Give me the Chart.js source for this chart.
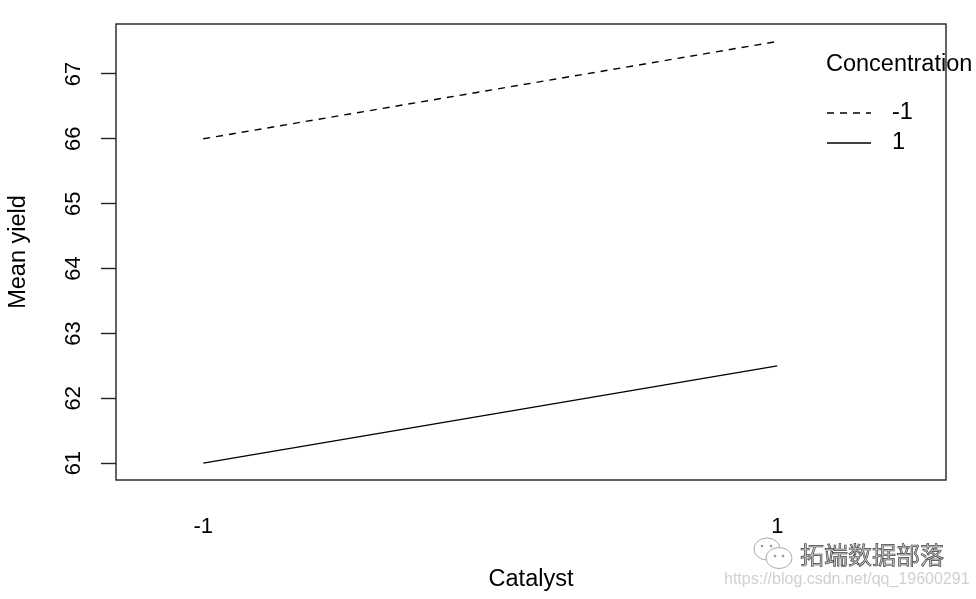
<!DOCTYPE html>
<html>
<head>
<meta charset="utf-8">
<script src="https://cdn.jsdelivr.net/npm/chart.js@4/dist/chart.umd.min.js"></script>
<style>
html,body{margin:0;padding:0;background:#fff;}
#wrap{width:976px;height:599px;position:relative;}
</style>
</head>
<body>
<div id="wrap"><canvas id="c"></canvas></div>
<script>
// ---- data ----
const catalystLevels = ['-1', '1'];
const concentrationLevels = ['-1', '1'];
const meanYieldConcMinus1 = [66, 67.5];
const meanYieldConcPlus1 = [61, 62.5];
const yTicks = [61, 62, 63, 64, 65, 66, 67];
const xTitle = 'Catalyst';
const yTitle = 'Mean yield';
const legendTitle = 'Concentration';
const watermarkName = '拓端数据部落';
const watermarkUrl = 'https://blog.csdn.net/qq_19600291';

const FONT = '"Liberation Sans", Arial, Helvetica, sans-serif';

function toPoints(vals){ return vals.map((v,i)=>({x:i+1, y:v})); }

const seriesStyles = [
  {dash:[7,6]},
  {dash:[]}
];

const boxPlugin = {
  id:'box',
  afterDraw(chart){
    const {ctx, chartArea:a} = chart;
    ctx.save();
    ctx.strokeStyle = '#222';
    ctx.lineWidth = 1.4;
    ctx.strokeRect(a.left, a.top, a.right - a.left, a.bottom - a.top);
    ctx.restore();
  }
};

const legendPlugin = {
  id:'rlegend',
  afterDraw(chart){
    const {ctx, chartArea:a} = chart;
    const x0 = a.right - 120;
    ctx.save();
    ctx.fillStyle = '#000';
    ctx.font = '23.5px ' + FONT;
    ctx.textBaseline = 'middle';
    ctx.textAlign = 'left';
    ctx.fillText(legendTitle, x0, a.top + 41);
    chart.data.datasets.forEach((ds, i) => {
      const y = a.top + 89 + i * 30;
      ctx.strokeStyle = '#000';
      ctx.lineWidth = 1.4;
      ctx.setLineDash(ds.borderDash || []);
      ctx.beginPath();
      ctx.moveTo(x0 + 1, y);
      ctx.lineTo(x0 + 45, y);
      ctx.stroke();
      ctx.setLineDash([]);
      ctx.fillText(concentrationLevels[i], x0 + 66, y);
    });
    ctx.restore();
  }
};

const watermarkPlugin = {
  id:'wm',
  afterDraw(chart){
    const {ctx} = chart;
    const W = chart.width, H = chart.height;
    ctx.save();
    // wechat-like icon
    ctx.strokeStyle = '#aaa';
    ctx.fillStyle = '#fff';
    ctx.lineWidth = 1;
    ctx.beginPath(); ctx.ellipse(W - 209, H - 50, 13, 11, 0, 0, Math.PI*2); ctx.fill(); ctx.stroke();
    ctx.beginPath(); ctx.ellipse(W - 197, H - 41, 13, 10.5, 0, 0, Math.PI*2); ctx.fill(); ctx.stroke();
    ctx.fillStyle = '#999';
    [[-214,-53],[-205,-53],[-201,-43],[-193,-43]].forEach(p=>{ctx.beginPath();ctx.arc(W+p[0],H+p[1],1.3,0,Math.PI*2);ctx.fill();});
    ctx.font = '24px "Noto Sans CJK SC", sans-serif';
    ctx.textBaseline = 'middle';
    ctx.textAlign = 'left';
    ctx.fillStyle = '#c8c8c8';
    ctx.strokeStyle = '#444';
    ctx.lineWidth = 0.7;
    ctx.fillText(watermarkName, W - 176, H - 44);
    ctx.strokeText(watermarkName, W - 176, H - 44);
    ctx.font = '16px ' + FONT;
    ctx.fillStyle = '#d0d0d0';
    ctx.fillText(watermarkUrl, W - 252, H - 19);
    ctx.restore();
  }
};

new Chart(document.getElementById('c'), {
  type:'line',
  data:{
    datasets:[
      {label:concentrationLevels[0], data:toPoints(meanYieldConcMinus1), borderColor:'#000', borderWidth:1.4, borderDash:seriesStyles[0].dash, pointRadius:0, fill:false, tension:0},
      {label:concentrationLevels[1], data:toPoints(meanYieldConcPlus1), borderColor:'#000', borderWidth:1.4, borderDash:seriesStyles[1].dash, pointRadius:0, fill:false, tension:0}
    ]
  },
  options:{
    responsive:true,
    maintainAspectRatio:false,
    animation:false,
    layout:{padding:{top:24, right:30, left:0, bottom:0}},
    plugins:{legend:{display:false}, tooltip:{enabled:false}},
    scales:{
      x:{
        type:'linear',
        min:0.848, max:2.294,
        afterBuildTicks: s => { s.ticks = catalystLevels.map((_,i)=>({value:i+1})); },
        afterFit: s => { s.height = 119; s.paddingLeft = 0; s.paddingRight = 0; },
        grid:{display:false, drawTicks:false},
        border:{display:false},
        ticks:{callback: v => catalystLevels[v-1], font:{family:FONT, size:22}, color:'#000', padding:34, autoSkip:false, maxRotation:0, minRotation:0},
        title:{display:true, text:xTitle, font:{family:FONT, size:23.5}, color:'#000', padding:{top:0, bottom:5}}
      },
      y:{
        min:60.74, max:67.77,
        afterBuildTicks: s => { s.ticks = yTicks.map(v=>({value:v})); },
        afterFit: s => { s.width = 116; s.paddingTop = 0; s.paddingBottom = 0; },
        grid:{drawOnChartArea:false, drawTicks:true, tickLength:15, color:'#222', tickWidth:1.4},
        border:{display:false},
        ticks:{font:{family:FONT, size:22}, color:'#000', minRotation:90, maxRotation:90, crossAlign:'center', padding:15},
        title:{display:true, text:yTitle, font:{family:FONT, size:23.5}, color:'#000', padding:{top:4, bottom:0}}
      }
    }
  },
  plugins:[boxPlugin, legendPlugin, watermarkPlugin]
});
</script>
</body>
</html>
